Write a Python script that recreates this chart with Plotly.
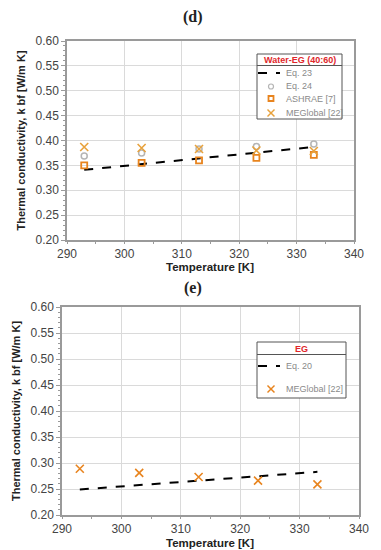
import plotly.graph_objects as go

temps = [293, 303, 313, 323, 333]
line_t = [293, 333]

# Panel (d) Water-EG (40:60)
eq23 = [0.341, 0.387]
eq24 = [0.369, 0.375, 0.383, 0.388, 0.393]
ashrae = [0.350, 0.355, 0.360, 0.365, 0.371]
meg_d = [0.387, 0.385, 0.383, 0.380, 0.379]

# Panel (e) EG
eq20 = [0.249, 0.283]
meg_e = [0.289, 0.281, 0.273, 0.266, 0.259]

W, H = 381, 550
def px(x): return x / W
def py(y): return 1 - y / H

FONT = "Liberation Sans, Arial, sans-serif"
orange = "#E8841E"
gold = "#E8A23C"
grey_c = "#B5B5B5"
red = "#E0262B"
legtxt = "#8A8A8A"

fig = go.Figure()

fig.add_trace(go.Scatter(x=line_t, y=eq23, mode="lines", name="Eq. 23",
                         line=dict(color="black", width=2, dash="dash"), xaxis="x", yaxis="y"))
fig.add_trace(go.Scatter(x=temps, y=eq24, mode="markers", name="Eq. 24",
                         marker=dict(symbol="circle-open", size=6, color=grey_c, line=dict(width=1.5)),
                         xaxis="x", yaxis="y"))
fig.add_trace(go.Scatter(x=temps, y=ashrae, mode="markers", name="ASHRAE [7]",
                         marker=dict(symbol="square-open", size=6, color=orange, line=dict(width=1.8)),
                         xaxis="x", yaxis="y"))
fig.add_trace(go.Scatter(x=temps, y=meg_d, mode="markers", name="MEGlobal [22]",
                         marker=dict(symbol="x-thin-open", size=8, color=gold, line=dict(width=1.6, color=gold)),
                         xaxis="x", yaxis="y"))

fig.add_trace(go.Scatter(x=line_t, y=eq20, mode="lines", name="Eq. 20",
                         line=dict(color="black", width=2, dash="dash"), xaxis="x2", yaxis="y2"))
fig.add_trace(go.Scatter(x=temps, y=meg_e, mode="markers", name="MEGlobal [22]",
                         marker=dict(symbol="x-thin-open", size=8, color=orange, line=dict(width=1.6, color=orange)),
                         xaxis="x2", yaxis="y2"))

ax_common = dict(range=[290, 340], dtick=10, showgrid=True, gridcolor="#DADADA",
                 showline=True, linecolor="#9A9A9A", linewidth=1.5, mirror=True,
                 ticks="outside", ticklen=2, tickcolor="#9A9A9A",
                 minor=dict(dtick=5, ticks="outside", ticklen=2, tickcolor="#9A9A9A", showgrid=False),
                 tickfont=dict(family=FONT, size=12, color="#444"),
                 zeroline=False, automargin=False)
ay_common = dict(range=[0.20, 0.60], dtick=0.05, tickformat=".2f", showgrid=True, gridcolor="#DADADA",
                 showline=True, linecolor="#9A9A9A", linewidth=1.5, mirror=True,
                 ticks="outside", ticklen=4, tickcolor="#9A9A9A",
                 minor=dict(dtick=0.01, ticks="outside", ticklen=2, tickcolor="#9A9A9A", showgrid=False),
                 tickfont=dict(family=FONT, size=12, color="#444"),
                 title=dict(text="<b>Thermal conductivity, k bf [W/m K]</b>", font=dict(family=FONT, size=11, color="#222"), standoff=8),
                 zeroline=False, automargin=False)

shapes = []
annotations = []

def add_legend(box, header, header_y, sep_y, entries):
    x0, y0, x1, y1 = box
    shapes.append(dict(type="rect", xref="paper", yref="paper", x0=px(x0), x1=px(x1), y0=py(y1), y1=py(y0),
                       line=dict(color="#555", width=1), fillcolor="white", layer="above"))
    shapes.append(dict(type="line", xref="paper", yref="paper", x0=px(x0), x1=px(x1), y0=py(sep_y), y1=py(sep_y),
                       line=dict(color="#555", width=1), layer="above"))
    annotations.append(dict(text="<b>" + header + "</b>", x=px((x0 + x1) / 2), y=py(header_y), xref="paper", yref="paper",
                            showarrow=False, xanchor="center", yanchor="middle",
                            font=dict(family=FONT, size=9, color=red)))
    cx = x0 + 14
    for kind, color, label, ey in entries:
        if kind == "line":
            shapes.append(dict(type="line", xref="paper", yref="paper", x0=px(x0 + 1), x1=px(x0 + 23),
                               y0=py(ey), y1=py(ey), line=dict(color="black", width=2, dash="dash"), layer="above"))
        elif kind == "circle":
            shapes.append(dict(type="circle", xref="paper", yref="paper", x0=px(cx - 2.5), x1=px(cx + 2.5),
                               y0=py(ey + 2.5), y1=py(ey - 2.5), line=dict(color=color, width=1.2), layer="above"))
        elif kind == "square":
            shapes.append(dict(type="rect", xref="paper", yref="paper", x0=px(cx - 2.5), x1=px(cx + 2.5),
                               y0=py(ey + 2.5), y1=py(ey - 2.5), line=dict(color=color, width=1.8), layer="above"))
        elif kind == "x":
            for s in (1, -1):
                shapes.append(dict(type="line", xref="paper", yref="paper", x0=px(cx - 3.5), x1=px(cx + 3.5),
                                   y0=py(ey + 3.5 * s), y1=py(ey - 3.5 * s), line=dict(color=color, width=1.5), layer="above"))
        annotations.append(dict(text=label, x=px(x0 + 27), y=py(ey), xref="paper", yref="paper",
                                showarrow=False, xanchor="left", yanchor="middle",
                                font=dict(family=FONT, size=9, color=legtxt)))

add_legend((257, 54, 342, 119), "Water-EG (40:60)", 60, 65.5, [
    ("line", "black", "Eq. 23", 73),
    ("circle", grey_c, "Eq. 24", 86.5),
    ("square", orange, "ASHRAE [7]", 98.5),
    ("x", gold, "MEGlobal [22]", 113),
])
add_legend((257, 342, 346, 398), "EG", 349, 354.5, [
    ("line", "black", "Eq. 20", 366),
    ("x", orange, "MEGlobal [22]", 389),
])

serif = "Liberation Serif, Times New Roman, serif"
annotations += [
    dict(text="<b>(d)</b>", x=px(193), y=py(17), xref="paper", yref="paper", showarrow=False,
         xanchor="center", yanchor="middle", font=dict(family=serif, size=16, color="#222")),
    dict(text="<b>(e)</b>", x=px(193), y=py(288), xref="paper", yref="paper", showarrow=False,
         xanchor="center", yanchor="middle", font=dict(family=serif, size=16, color="#222")),
    dict(text="<b>Temperature [K]</b>", x=px(210), y=py(267), xref="paper", yref="paper", showarrow=False,
         xanchor="center", yanchor="middle", font=dict(family=FONT, size=11.5, color="#222")),
    dict(text="<b>Temperature [K]</b>", x=px(210), y=py(543), xref="paper", yref="paper", showarrow=False,
         xanchor="center", yanchor="middle", font=dict(family=FONT, size=11.5, color="#222")),
]

fig.update_layout(
    width=W, height=H, margin=dict(l=0, r=0, t=0, b=0),
    paper_bgcolor="white", plot_bgcolor="white",
    xaxis=dict(domain=[px(67), px(354)], anchor="y", **ax_common),
    yaxis=dict(domain=[py(240), py(41)], anchor="x", **ay_common),
    xaxis2=dict(domain=[px(62), px(359)], anchor="y2", **ax_common),
    yaxis2=dict(domain=[py(515), py(307)], anchor="x2", **ay_common),
    showlegend=False,
    shapes=shapes,
    annotations=annotations,
)

fig.write_html("out.html", config={"displayModeBar": False},
               post_script="document.body.style.margin='0px';document.body.style.overflow='hidden';")
